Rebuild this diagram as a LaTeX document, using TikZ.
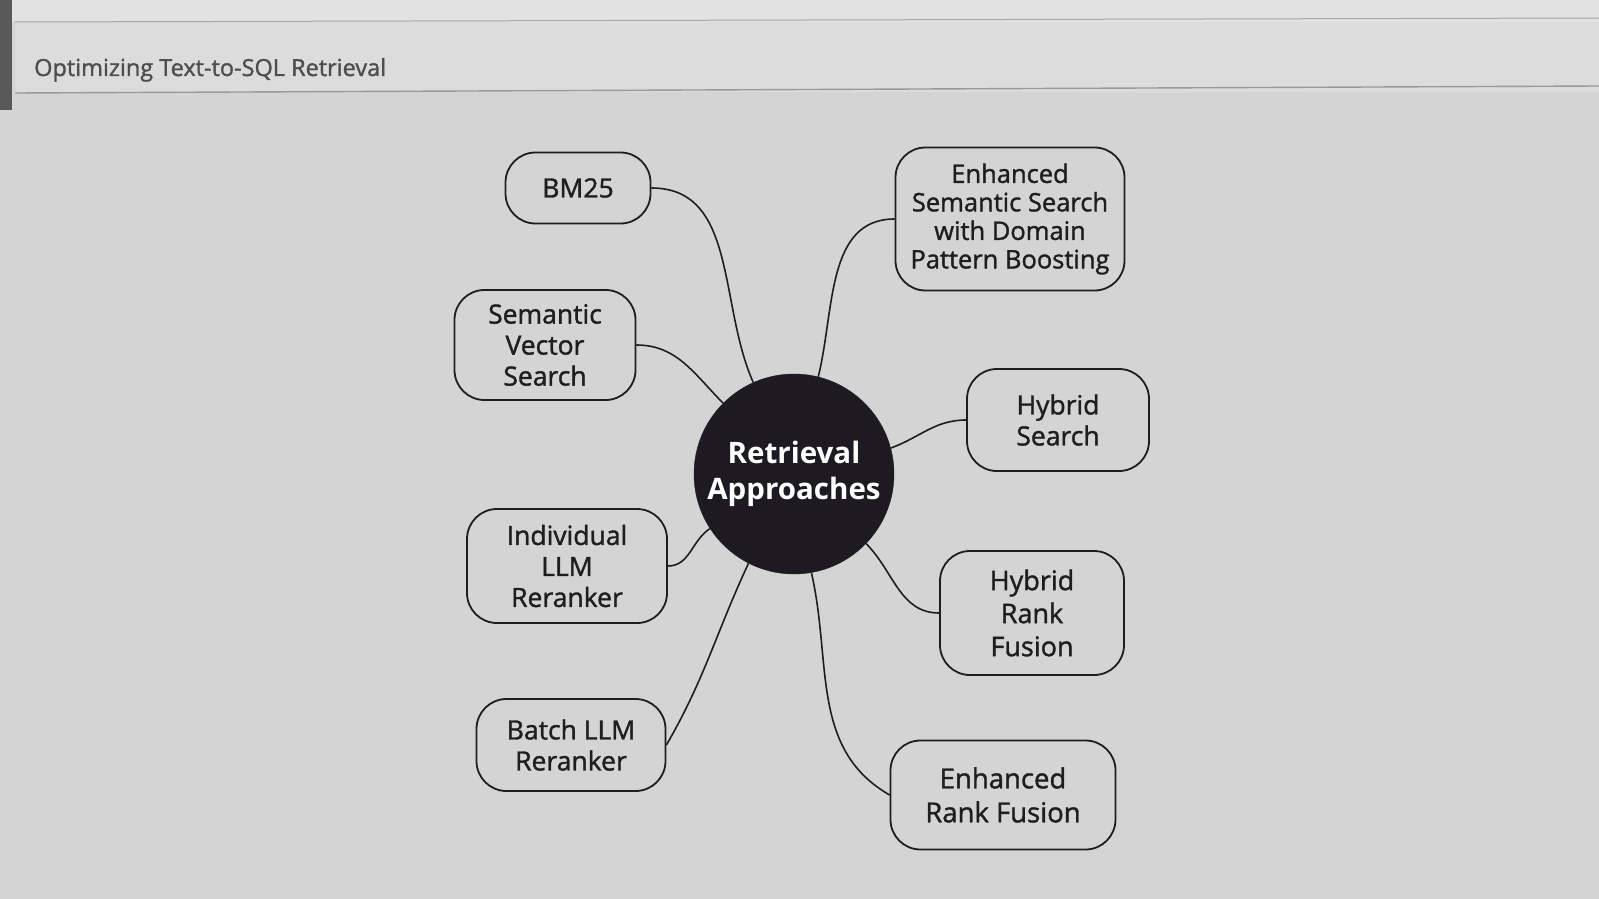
\documentclass[tikz,border=0pt]{standalone}
\usepackage{fontspec}
\setmainfont{Open Sans}
\newfontfamily\leaffont[FakeBold=1.3]{Open Sans}
\definecolor{canvas}{HTML}{D4D4D5}
\definecolor{headbg}{HTML}{DCDCDD}
\definecolor{topbar}{HTML}{E2E2E3}
\definecolor{ink}{HTML}{1E1E1E}
\definecolor{hub}{HTML}{1E1A22}
\definecolor{titlegray}{HTML}{4E4E50}
\begin{document}
\begin{tikzpicture}[x=1pt,y=1pt,
  leaf/.style={draw=ink,line width=1.8pt,rounded corners=30pt,fill=canvas,
    align=center,font=\leaffont\fontsize{26.5}{31}\selectfont,text=ink,inner sep=0pt},
  hubnode/.style={circle,fill=hub,draw=hub,minimum size=200pt,align=center,
    text=white,font=\bfseries\fontsize{29.5}{36}\selectfont,inner sep=0pt},
  link/.style={draw=ink,line width=1.6pt}]
\useasboundingbox (0,0) rectangle (1599,-899);
\fill[canvas] (0,0) rectangle (1599,-899);
% top bar and header panel
\fill[topbar] (0,0) rectangle (1599,-22);
\fill[headbg] (15,-22) rectangle (1599,-92);
\draw[gray!70,line width=1pt] (15,-22) -- (1599,-18);
\draw[gray!80,line width=1.4pt] (15,-93) -- (1599,-86);
\fill[black!65] (0,0) rectangle (12,-110);
\node[anchor=base west,text=titlegray,font=\leaffont\fontsize{23.5}{28}\selectfont,inner sep=0pt] (title) at (34,-76) {Optimizing Text-to-SQL Retrieval};
% hub
\node[hubnode] (hub) at (794,-474) {Retrieval\\Approaches};
% leaves
\node[leaf,minimum width=145pt,minimum height=71pt] (bm) at (578,-188) {BM25};
\node[leaf,minimum width=229pt,minimum height=143pt,font=\leaffont\fontsize{25.5}{28.5}\selectfont] (ess) at (1010,-219) {Enhanced\\Semantic Search\\with Domain\\Pattern Boosting};
\node[leaf,minimum width=181pt,minimum height=110pt] (svs) at (545,-345) {Semantic\\Vector\\Search};
\node[leaf,minimum width=182pt,minimum height=102pt] (hs) at (1058,-420) {Hybrid\\Search};
\node[leaf,minimum width=200pt,minimum height=114pt] (ilr) at (567,-566) {Individual\\LLM\\Reranker};
\node[leaf,minimum width=184pt,minimum height=124pt,font=\leaffont\fontsize{27}{33}\selectfont] (hrf) at (1032,-613) {Hybrid\\Rank\\Fusion};
\node[leaf,minimum width=189pt,minimum height=92pt] (blr) at (571,-745) {Batch LLM\\Reranker};
\node[leaf,minimum width=225pt,minimum height=109pt,font=\leaffont\fontsize{27.5}{34}\selectfont] (erf) at (1003,-795) {Enhanced\\Rank Fusion};
% connectors
\draw[link] (bm.east) to[out=0,in=114] (hub.114);
\draw[link] (ess.west) to[out=180,in=76] (hub.76);
\draw[link] (svs.east) to[out=0,in=135] (hub.135);
\draw[link] (hs.west) to[out=180,in=20] (hub.15);
\draw[link] (ilr.east) to[out=0,in=213] (hub.213);
\draw[link] (blr.east) to[out=60,in=245] (hub.243);
\draw[link] (hrf.west) to[out=180,in=-45] (hub.-44);
\draw[link] (erf.west) to[out=150,in=-77] (hub.-80);
\end{tikzpicture}
\end{document}
